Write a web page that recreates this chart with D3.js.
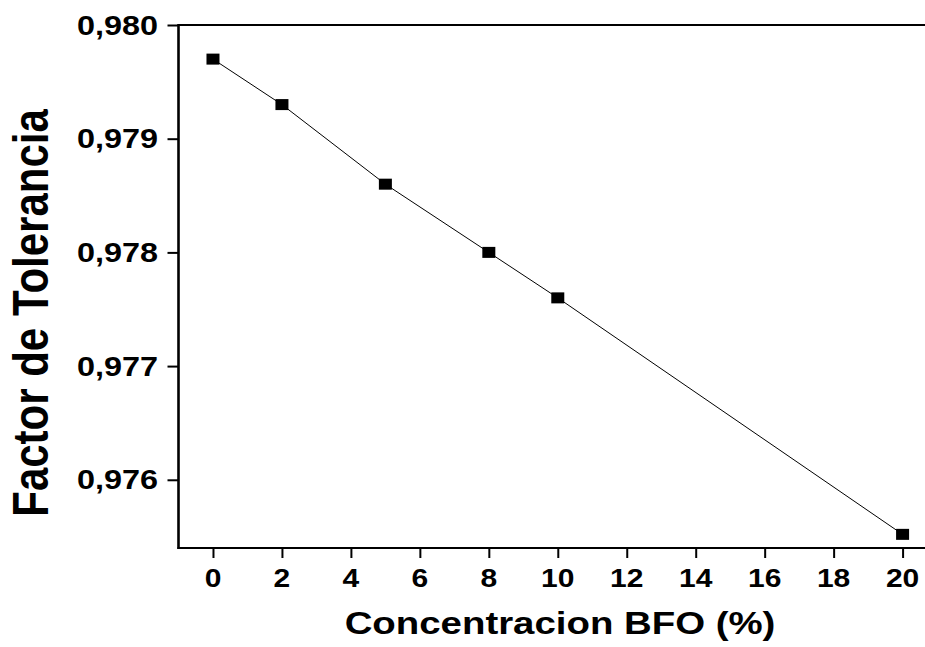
<!DOCTYPE html>
<html>
<head>
<meta charset="utf-8">
<script src="https://cdnjs.cloudflare.com/ajax/libs/d3/7.8.5/d3.min.js"></script>
<style>
  body { margin: 0; background: #fff; }
  svg { display: block; }
  text { font-family: "Liberation Sans", Arial, sans-serif; font-weight: bold; fill: #000; }
</style>
</head>
<body>
<svg width="925" height="647"></svg>
<script>
// datos
var concentracion = [0, 2, 5, 8, 10, 20];
var tolerancia = [0.9797, 0.9793, 0.9786, 0.9780, 0.9776, 0.97552];
var xTicks = [0, 2, 4, 6, 8, 10, 12, 14, 16, 18, 20];
var xMinor = [-1, 1, 3, 5, 7, 9, 11, 13, 15, 17, 19];
var yTicks = [0.976, 0.977, 0.978, 0.979, 0.980];
var yMinor = [0.9755, 0.9765, 0.9775, 0.9785, 0.9795];

var svg = d3.select("svg"),
    width = +svg.attr("width"),
    height = +svg.attr("height");

var stretch = 1.2; // el original esta estirado en horizontal

var x = d3.scaleLinear().domain([-1, 20.65]).range([178.5, 925]);
var y = d3.scaleLinear().domain([0.9754, 0.980]).range([548, 25]);

var fmt = function(d) { return d3.format(".3f")(d).replace(".", ","); };

// ejes
var gx = svg.append("g")
  .attr("transform", "translate(0," + y.range()[0] + ")");
gx.call(d3.axisBottom(x).tickValues(xMinor).tickSize(5).tickFormat(""));
gx.call(d3.axisBottom(x).tickValues(xTicks).tickSize(10).tickFormat(""));
gx.selectAll("path").remove();
gx.selectAll("line").attr("stroke", "#000").attr("stroke-width", 2);

var gy = svg.append("g")
  .attr("transform", "translate(" + x.range()[0] + ",0)");
gy.call(d3.axisLeft(y).tickValues(yMinor).tickSize(6).tickFormat(""));
gy.call(d3.axisLeft(y).tickValues(yTicks).tickSize(11).tickFormat(""));
gy.selectAll("path").remove();
gy.selectAll("line").attr("stroke", "#000").attr("stroke-width", 2);

// marco: izquierda, abajo, arriba
svg.append("line")
  .attr("x1", x.range()[0]).attr("x2", x.range()[0])
  .attr("y1", y.range()[1] - 1).attr("y2", y.range()[0] + 1)
  .attr("stroke", "#000").attr("stroke-width", 2.6);
svg.append("line")
  .attr("x1", x.range()[0] - 1).attr("x2", width)
  .attr("y1", y.range()[0]).attr("y2", y.range()[0])
  .attr("stroke", "#000").attr("stroke-width", 2.2);
svg.append("line")
  .attr("x1", x.range()[0]).attr("x2", width)
  .attr("y1", y.range()[1]).attr("y2", y.range()[1])
  .attr("stroke", "#000").attr("stroke-width", 2);

// etiquetas de los ticks
svg.append("g")
  .selectAll("text")
  .data(xTicks)
  .enter().append("text")
  .attr("transform", function(d) {
    return "translate(" + x(d) + ",587) scale(" + stretch + ",1)";
  })
  .attr("text-anchor", "middle")
  .style("font-size", "25px")
  .text(function(d) { return d; });

svg.append("g")
  .selectAll("text")
  .data(yTicks)
  .enter().append("text")
  .attr("transform", function(d) {
    return "translate(158," + (y(d) + 9.5) + ") scale(" + stretch + ",1)";
  })
  .attr("text-anchor", "end")
  .style("font-size", "27px")
  .text(fmt);

// titulos
svg.append("text")
  .attr("transform", "translate(560,634) scale(" + stretch + ",1)")
  .attr("text-anchor", "middle")
  .style("font-size", "32px")
  .text("Concentracion BFO (%)");

svg.append("text")
  .attr("transform", "translate(48,313) scale(" + stretch + ",1) rotate(-90)")
  .attr("text-anchor", "middle")
  .style("font-size", "42px")
  .text("Factor de Tolerancia");

// serie
var line = d3.line()
  .x(function(d, i) { return x(concentracion[i]); })
  .y(function(d) { return y(d); });

svg.append("path")
  .datum(tolerancia)
  .attr("d", line)
  .attr("fill", "none")
  .attr("stroke", "#000")
  .attr("stroke-width", 1);

svg.append("g")
  .selectAll("rect")
  .data(tolerancia)
  .enter().append("rect")
  .attr("x", function(d, i) { return x(concentracion[i]) - 6.5; })
  .attr("y", function(d) { return y(d) - 5.5; })
  .attr("width", 13)
  .attr("height", 11)
  .attr("fill", "#000");
</script>
</body>
</html>
